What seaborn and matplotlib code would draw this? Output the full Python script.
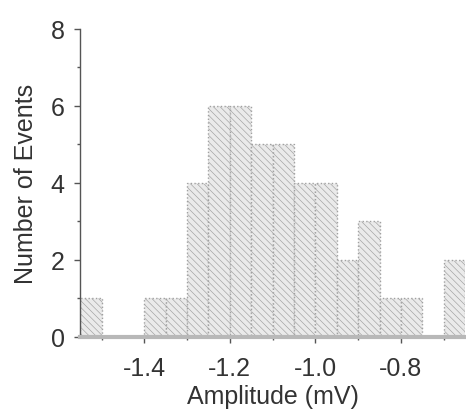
import numpy as np
import pandas as pd
import matplotlib
matplotlib.use("Agg")
import matplotlib.pyplot as plt
from matplotlib.ticker import MultipleLocator
import seaborn as sns

# Histogram: bin edges (mV) and event counts per bin
bin_edges = [-1.55, -1.50, -1.45, -1.40, -1.35, -1.30, -1.25, -1.20, -1.15, -1.10,
             -1.05, -1.00, -0.95, -0.90, -0.85, -0.80, -0.75, -0.70, -0.65]
counts = [1, 0, 0, 1, 1, 4, 6, 6, 5, 5, 4, 4, 2, 3, 1, 1, 0, 2]
x_ticks = [-1.4, -1.2, -1.0, -0.8]
y_ticks = [0, 2, 4, 6, 8]

edges = np.array(bin_edges)
df = pd.DataFrame({'amp': (edges[:-1] + edges[1:]) / 2, 'n': counts})

sns.set_style("white")
plt.rcParams['font.family'] = ['Liberation Sans', 'DejaVu Sans']
plt.rcParams['hatch.linewidth'] = 0.45

fig = plt.figure(figsize=(4.66, 4.10), dpi=100)
ax = fig.add_axes([0.172, 0.176, 0.826, 0.751])

sns.histplot(data=df, x='amp', weights='n', bins=list(bin_edges), ax=ax,
             color='#eaeaea', alpha=1, edgecolor='#a0a0a0', linewidth=1.0,
             linestyle=':', hatch='\\\\\\\\\\')

ax.set_xlim(-1.55, -0.65)
ax.set_ylim(0, 8)
ax.set_xticks(x_ticks)
ax.set_xticklabels([f"{t:.1f}" for t in x_ticks])
ax.set_yticks(y_ticks)
ax.xaxis.set_minor_locator(MultipleLocator(0.1))
ax.yaxis.set_minor_locator(MultipleLocator(1))

for s in ['top', 'right']:
    ax.spines[s].set_visible(False)
ax.spines['left'].set_color('#555555')
ax.spines['left'].set_linewidth(1.0)
ax.spines['bottom'].set_color('#b8b8b8')
ax.spines['bottom'].set_linewidth(3)

ax.tick_params(axis='y', which='major', pad=7)
ax.tick_params(axis='x', which='major', pad=10)
ax.tick_params(axis='both', which='major', direction='out', length=4, width=1,
               color='#555555', labelsize=18, labelcolor='#333333',
               bottom=True, left=True)
ax.tick_params(axis='both', which='minor', direction='out', length=2, width=1,
               color='#555555', bottom=True, left=True)

ax.set_xlabel("Amplitude (mV)", fontsize=18, color='#333333', labelpad=3)
ax.set_ylabel("Number of Events", fontsize=18, color='#333333', labelpad=9)

fig.savefig("out.png", dpi=100)
plt.close()
